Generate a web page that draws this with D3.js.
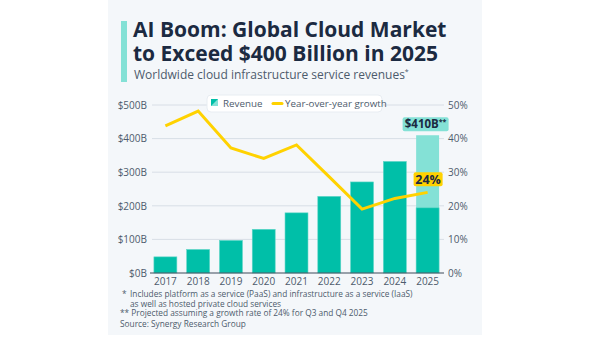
<!DOCTYPE html>
<html>
<head>
<meta charset="utf-8">
<script src="https://cdn.jsdelivr.net/npm/d3@7/dist/d3.min.js"></script>
<style>
  body { margin: 0; background: #fff; }
  svg { display: block; font-family: "Open Sans", "Noto Sans", sans-serif; }
</style>
</head>
<body>
<div id="chart"></div>
<script>
// data
const years = ['2017', '2018', '2019', '2020', '2021', '2022', '2023', '2024', '2025'];
const revenue = [48, 70, 97, 130, 179, 228, 271, 332, 194];   // $B, 2025 = H1 actual
const revenueProjected = [null, null, null, null, null, null, null, null, 410];
const growth = [43.8, 48.2, 37.2, 34.1, 38.1, 28.6, 19, 22.2, 24]; // %
const revTicks = [0, 100, 200, 300, 400, 500];
const pctTicks = [0, 10, 20, 30, 40, 50];

const W = 600, H = 337;
const teal = '#00bfa8', tealLight = '#84e1d6', yellow = '#ffd200', navy = '#1b2a41', grey = '#4d5b6c';

const svg = d3.select('#chart').append('svg').attr('width', W).attr('height', H);

// card
svg.append('rect').attr('x', 108).attr('y', 0).attr('width', 374).attr('height', 335).attr('fill', '#f4f7fa');

// title
svg.append('rect').attr('x', 121).attr('y', 21).attr('width', 6).attr('height', 61).attr('fill', tealLight);
const title = svg.append('text').attr('fill', navy).attr('font-weight', 700).attr('font-size', 21);
title.append('tspan').attr('x', 133).attr('y', 37).text('AI Boom: Global Cloud Market');
title.append('tspan').attr('x', 133).attr('y', 61).text('to Exceed $400 Billion in 2025');
const sub = svg.append('text').attr('x', 134).attr('y', 79).attr('fill', grey).attr('font-size', 12)
  .text('Worldwide cloud infrastructure service revenues');
sub.append('tspan').attr('font-size', 7).attr('dy', -5).text('*');

// scales
const margin = {top: 105, bottom: 273, left: 149, right: 444};
const x = d3.scaleBand().domain(years).range([margin.left, margin.right]).paddingInner(0.3).paddingOuter(0.15);
const y = d3.scaleLinear().domain([0, 500]).range([margin.bottom, margin.top]);
const y2 = d3.scaleLinear().domain([0, 50]).range([margin.bottom, margin.top]);

// grid
svg.append('g').selectAll('line').data(revTicks.slice(1)).join('line')
  .attr('x1', 152).attr('x2', 444).attr('y1', d => y(d)).attr('y2', d => y(d))
  .attr('stroke', '#d8dee6').attr('stroke-width', 1);

// left axis
const yAxis = svg.append('g').attr('transform', `translate(151,0)`)
  .call(d3.axisLeft(y).tickValues(revTicks).tickSize(0).tickPadding(4).tickFormat(d => `$${d}B`));
yAxis.select('.domain').remove();
yAxis.selectAll('text').attr('fill', grey).attr('font-size', 10).attr('font-family', '"Open Sans", sans-serif');

// right axis
const y2Axis = svg.append('g').attr('transform', `translate(444,0)`)
  .call(d3.axisRight(y2).tickValues(pctTicks).tickSize(0).tickPadding(4).tickFormat(d => `${d}%`));
y2Axis.select('.domain').remove();
y2Axis.selectAll('text').attr('fill', grey).attr('font-size', 10).attr('font-family', '"Open Sans", sans-serif');

// projected bar (2025 full year)
svg.append('g').selectAll('rect').data(years.map((d, i) => ({year: d, v: revenueProjected[i]})).filter(d => d.v != null))
  .join('rect')
  .attr('x', d => x(d.year)).attr('width', x.bandwidth())
  .attr('y', d => y(d.v)).attr('height', d => y(0) - y(d.v))
  .attr('fill', tealLight);

// revenue bars
svg.append('g').selectAll('rect').data(years.map((d, i) => ({year: d, v: revenue[i]}))).join('rect')
  .attr('x', d => x(d.year)).attr('width', x.bandwidth())
  .attr('y', d => y(d.v)).attr('height', d => y(0) - y(d.v))
  .attr('fill', teal).attr('stroke', '#5fd6c7').attr('stroke-width', 0.6);

// baseline
svg.append('line').attr('x1', 150).attr('x2', 444).attr('y1', y(0)).attr('y2', y(0))
  .attr('stroke', '#3d4a5a').attr('stroke-width', 1);

// x axis labels
const xAxis = svg.append('g').attr('transform', `translate(0,${y(0)})`)
  .call(d3.axisBottom(x).tickSize(0).tickPadding(5));
xAxis.select('.domain').remove();
xAxis.selectAll('text').attr('fill', grey).attr('font-size', 10).attr('font-family', '"Open Sans", sans-serif');

// growth line
const line = d3.line().x((d, i) => x(years[i]) + x.bandwidth() / 2).y(d => y2(d));
svg.append('path').datum(growth).attr('d', line)
  .attr('fill', 'none').attr('stroke', yellow).attr('stroke-width', 3).attr('stroke-linejoin', 'miter');

// annotations
const lastX = x('2025') + x.bandwidth() / 2;
svg.append('rect').attr('x', lastX - 25).attr('y', y(410) - 18).attr('width', 46).attr('height', 14).attr('rx', 2)
  .attr('fill', tealLight);
const lbl = svg.append('text').attr('x', lastX - 2).attr('y', y(410) - 7).attr('text-anchor', 'middle')
  .attr('fill', navy).attr('font-weight', 700).attr('font-size', 11.5).text('$410B');
lbl.append('tspan').attr('font-size', 7).attr('dy', -4).text('**');

svg.append('rect').attr('x', lastX - 14).attr('y', y2(24) - 20).attr('width', 29).attr('height', 14).attr('rx', 2)
  .attr('fill', yellow);
svg.append('text').attr('x', lastX + 0.5).attr('y', y2(24) - 8.5).attr('text-anchor', 'middle')
  .attr('fill', navy).attr('font-weight', 700).attr('font-size', 12.5).text('24%');

// legend
const lg = svg.append('g');
lg.append('rect').attr('x', 207).attr('y', 95).attr('width', 175).attr('height', 17).attr('rx', 4)
  .attr('fill', '#fff').attr('stroke', '#e8edf2');
lg.append('path').attr('d', 'M211,99h7v7h-7z').attr('fill', tealLight);
lg.append('path').attr('d', 'M211,99h7l-7,7z').attr('fill', teal);
lg.append('text').attr('x', 223).attr('y', 107).attr('fill', grey).attr('font-size', 9.8).text('Revenue');
lg.append('line').attr('x1', 273).attr('x2', 282).attr('y1', 103.5).attr('y2', 103.5)
  .attr('stroke', yellow).attr('stroke-width', 3).attr('stroke-linecap', 'round');
lg.append('text').attr('x', 285).attr('y', 107).attr('fill', grey).attr('font-size', 9.8).text('Year-over-year growth');

// footnotes
const notes = [
  {x: 122, y: 297, t: '*'},
  {x: 130, y: 297, t: 'Includes platform as a service (PaaS) and infrastructure as a service (IaaS)'},
  {x: 130, y: 306.5, t: 'as well as hosted private cloud services'},
  {x: 120, y: 316, t: '** Projected assuming a growth rate of 24% for Q3 and Q4 2025'},
  {x: 120, y: 327, t: 'Source: Synergy Research Group'}
];
svg.append('g').selectAll('text').data(notes).join('text')
  .attr('x', d => d.x).attr('y', d => d.y).attr('fill', grey).attr('font-size', 8.3).text(d => d.t);
</script>
</body>
</html>
